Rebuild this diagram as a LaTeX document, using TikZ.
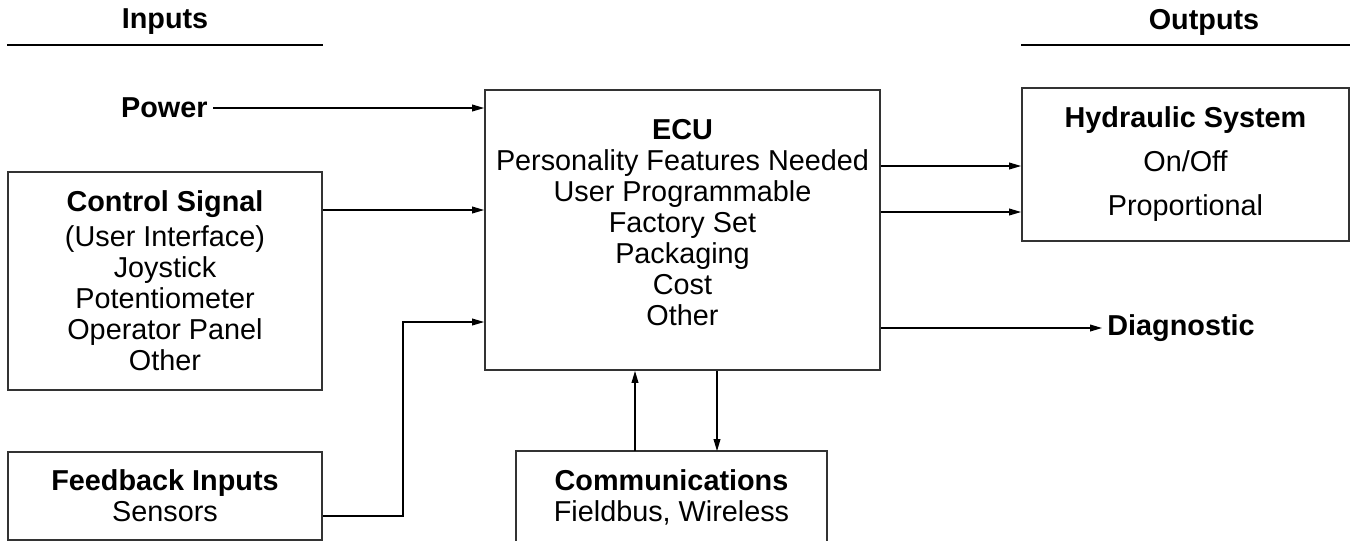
\documentclass[tikz,border=0pt]{standalone}
\usepackage{fontspec}
\setmainfont{Liberation Sans}
\usepackage{tikz}
\usetikzlibrary{arrows.meta,positioning}
\tikzset{
  >={Triangle[length=6pt,width=3.4pt]},
  blk/.style={
    draw=black!80, line width=0.9pt, rectangle, align=center, inner sep=0pt,
    font=\fontsize{14.4}{15.5}\selectfont
  },
  lbl/.style={
    align=center, inner sep=2.5pt, font=\fontsize{14.4}{15.5}\selectfont\bfseries
  },
  conn/.style={line width=0.6pt},
}

\begin{document}
\begin{tikzpicture}[x=0.5pt,y=-0.5pt]
  \useasboundingbox (0,0) rectangle (1356,541);

  % headings
  \node[lbl] (inlbl) at (165,22) {Inputs};
  \node[lbl] (outlbl) at (1204,22) {Outputs};

  % blocks
  \node[blk, minimum width=157pt, minimum height=109pt] (ctrl) at (165,281)
    {\textbf{Control Signal}\\[2pt]
    (User Interface)\\
    Joystick\\
    Potentiometer\\
    Operator Panel\\
    Other};
  \node[blk, minimum width=157pt, minimum height=44pt] (fb) at (165,496)
    {\textbf{Feedback Inputs}\\
    Sensors};
  \node[blk, minimum width=197.5pt, minimum height=140pt] (ecu) at (682.5,230)
    {\textbf{ECU}\\
    Personality Features Needed\\
    User Programmable\\
    Factory Set\\
    Packaging\\
    Cost\\
    Other\\[-8pt]\mbox{}};
  \node[blk, minimum width=163.5pt, minimum height=76.5pt] (hyd) at (1185.5,164.5)
    {\textbf{Hydraulic System}\\[6.5pt]
    On/Off\\[6.5pt]
    Proportional};
  \node[blk, draw=none, minimum width=154.5pt, minimum height=45pt] (comm) at (671.5,497)
    {\textbf{Communications}\\
    Fieldbus, Wireless};
  \draw[black!80, line width=0.9pt] (comm.south west) -- (comm.north west)
    -- (comm.north east) -- (comm.south east);

  \node[lbl, anchor=east] (power) at (213,108) {Power};
  \node[lbl, anchor=west] (diag) at (1102,328) {Diagnostic};

  % rules under headings
  \draw[conn] (ctrl.west |- 0,45) -- (ctrl.east |- 0,45);
  \draw[conn] (hyd.west |- 0,45) -- (hyd.east |- 0,45);

  % connectors
  \draw[conn,->] (power.east) -- (ecu.west |- power.east);
  \draw[conn,->] (ctrl.east |- 0,210) -- (ecu.west |- 0,210);
  \draw[conn,->] (fb.east |- 0,516) -| (403,322) -- (ecu.west |- 0,322);
  \draw[conn,->] (comm.north -| 635,0) -- (ecu.south -| 635,0);
  \draw[conn,->] (ecu.south -| 717,0) -- (comm.north -| 717,0);
  \draw[conn,->] (ecu.east |- 0,166) -- (hyd.west |- 0,166);
  \draw[conn,->] (ecu.east |- 0,212) -- (hyd.west |- 0,212);
  \draw[conn,->] (ecu.east |- diag.west) -- (diag.west);
\end{tikzpicture}
\end{document}
